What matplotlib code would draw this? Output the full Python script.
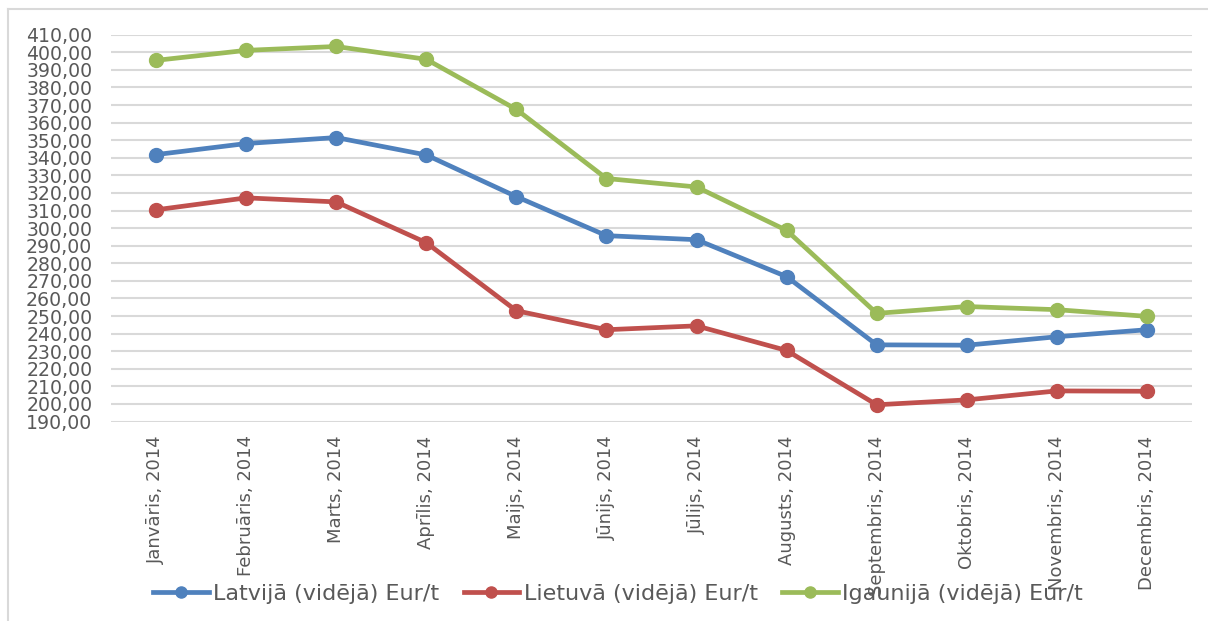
import matplotlib.pyplot as plt
from matplotlib.lines import Line2D
from matplotlib.ticker import FuncFormatter

plt.rcParams['font.family'] = ['DejaVu Sans']

months = ["Janvāris, 2014", "Februāris, 2014", "Marts, 2014", "Aprīlis, 2014",
          "Maijs, 2014", "Jūnijs, 2014", "Jūlijs, 2014", "Augusts, 2014",
          "Septembris, 2014", "Oktobris, 2014", "Novembris, 2014", "Decembris, 2014"]
latvija = [341.8, 348.1, 351.5, 341.6, 317.9, 295.7, 293.4, 272.4, 233.6, 233.4, 238.2, 242.2]
lietuva = [310.4, 317.2, 314.9, 291.7, 253.0, 242.2, 244.4, 230.4, 199.5, 202.3, 207.4, 207.2]
igaunija = [395.4, 401.1, 403.3, 396.0, 367.5, 328.2, 323.4, 298.7, 251.5, 255.4, 253.6, 249.8]
names = ["Latvijā (vidējā) Eur/t", "Lietuvā (vidējā) Eur/t", "Igaunijā (vidējā) Eur/t"]
colors = ["#4f81bd", "#c0504d", "#9bbb59"]

W, H = 1208, 621
fig = plt.figure(figsize=(W / 100, H / 100), dpi=100)
ax = fig.add_axes([111 / W, 1 - 421.5 / H, (1192 - 111) / W, (421.5 - 34.7) / H])

x = list(range(len(months)))
for vals, c in zip([latvija, lietuva, igaunija], colors):
    ax.plot(x, vals, color=c, lw=3.4, marker="o", ms=10, zorder=3)

ax.set_xlim(-0.5, len(months) - 0.5)
ax.set_ylim(190, 410)
ax.set_yticks(range(190, 411, 10))
ax.yaxis.set_major_formatter(FuncFormatter(lambda v, p: f"{v:.2f}".replace(".", ",")))
ax.set_xticks(x)
ax.set_xticklabels(months, rotation=90, va="top", ha="center")
ax.grid(axis="y", color="#d9d9d9", lw=1.5, zorder=0)
for s in ax.spines.values():
    s.set_visible(False)
ax.tick_params(axis="both", length=0, colors="#595959", labelsize=13)
ax.tick_params(axis="y", pad=13.5, labelsize=13.6)
ax.tick_params(axis="x", pad=10)

handles = [Line2D([], [], color=c, lw=3.4, marker="o", ms=8) for c in colors]
leg = fig.legend(handles, names, loc="center", bbox_to_anchor=(618 / W, 1 - 594 / H),
                 ncol=3, frameon=False, fontsize=16, handlelength=2.5,
                 handletextpad=0.2, columnspacing=1.1, labelcolor="#595959")

fig.add_artist(Line2D([8 / W, 8 / W], [0, 1 - 9 / H], color="#d9d9d9", lw=1.5))
fig.add_artist(Line2D([8 / W, 1], [1 - 9 / H, 1 - 9 / H], color="#d9d9d9", lw=1.5))

fig.savefig("out.png", dpi=100)
